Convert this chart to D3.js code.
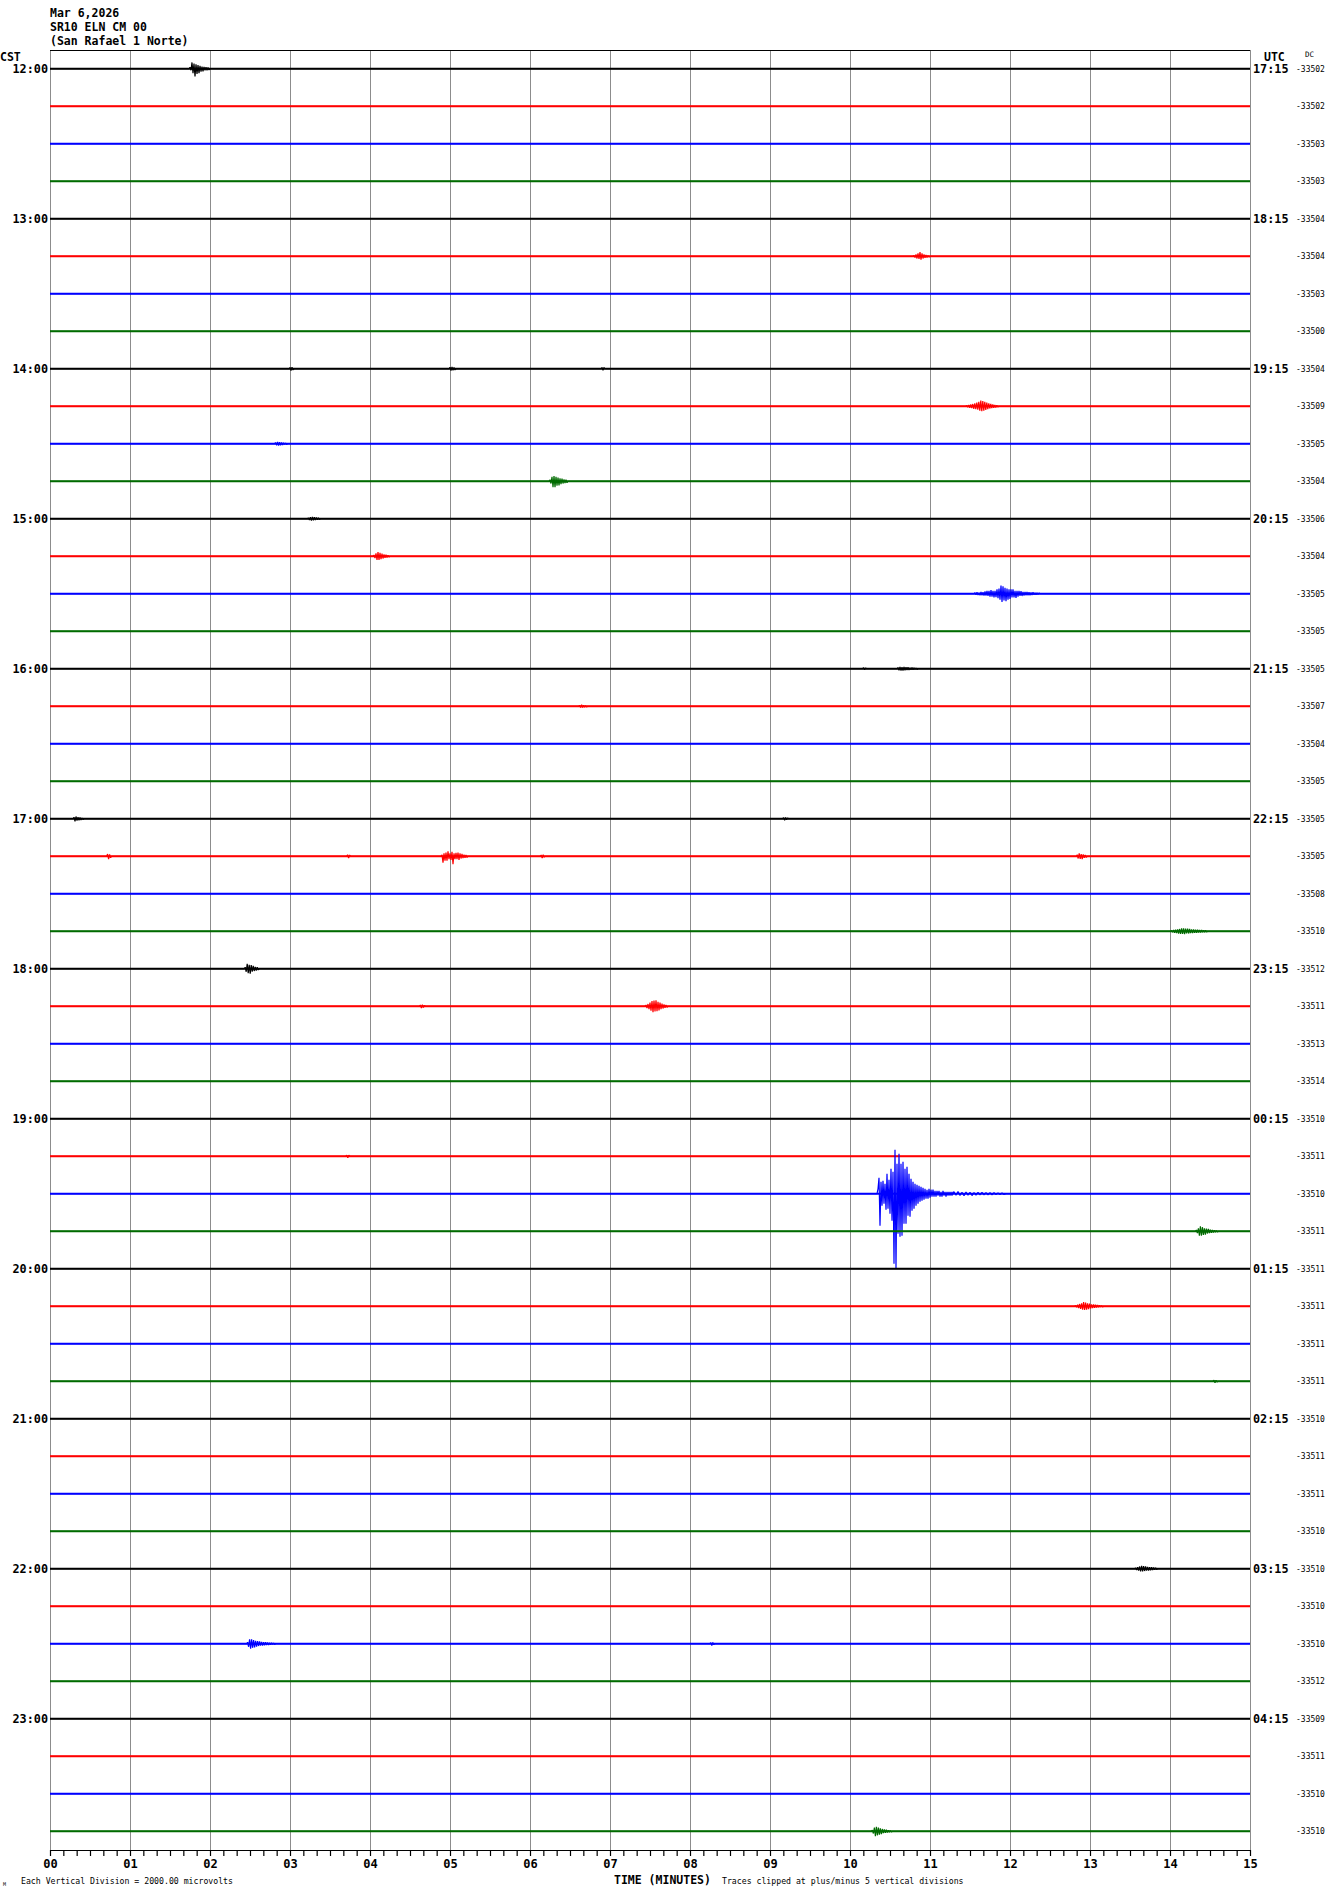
<!DOCTYPE html>
<html><head><meta charset="utf-8">
<script src="https://cdn.jsdelivr.net/npm/d3@7"></script>
<style>
html,body{margin:0;padding:0;background:#fff;}
svg{display:block;}
</style></head><body>
<script>
// ---------------- DATA ----------------
const titleLines = ["Mar 6,2026", "SR10 ELN CM 00", "(San Rafael 1 Norte)"];
const cstLabels = ["12:00","13:00","14:00","15:00","16:00","17:00","18:00","19:00","20:00","21:00","22:00","23:00"];
const utcLabels = ["17:15","18:15","19:15","20:15","21:15","22:15","23:15","00:15","01:15","02:15","03:15","04:15"];
const dcValues = [
  -33502,-33502,-33503,-33503,-33504,-33504,-33503,-33500,
  -33504,-33509,-33505,-33504,-33506,-33504,-33505,-33505,
  -33505,-33507,-33504,-33505,-33505,-33505,-33508,-33510,
  -33512,-33511,-33513,-33514,-33510,-33511,-33510,-33511,
  -33511,-33511,-33511,-33511,-33510,-33511,-33511,-33510,
  -33510,-33510,-33510,-33512,-33509,-33511,-33510,-33510
];
const minuteLabels = ["00","01","02","03","04","05","06","07","08","09","10","11","12","13","14","15"];
const rowCount = 48;
// events: row index, start minute, sample step (minutes), values in vertical divisions
const events = [
  {row:0, start:1.75, step:0.0125, values:[0.1,-0.1,0.42,-0.3,0.35,-0.52,0.3,-0.35,0.25,-0.3,0.2,-0.2,0.15,-0.18,0.12,-0.1,0.1,-0.1,0.08,-0.08]},
  {row:5, start:10.8, step:0.0125, values:[0.05,-0.08,0.12,-0.15,0.2,-0.18,0.27,-0.22,0.2,-0.15,0.12,-0.1,0.08,-0.08,0.05,-0.05]},
  {row:8, start:3.0, step:0.0125, values:[0.08,-0.12,0.1,-0.08]},
  {row:8, start:5.0, step:0.0125, values:[0.1,-0.13,0.12,-0.1,0.08,-0.08]},
  {row:8, start:6.9, step:0.0125, values:[0.08,-0.1,0.08]},
  {row:9, start:11.46, step:0.0125, values:[0.05,-0.07,0.08,-0.1,0.12,-0.13,0.15,-0.17,0.2,-0.2,0.25,-0.22,0.3,-0.3,0.38,-0.33,0.35,-0.3,0.3,-0.25,0.25,-0.2,0.2,-0.15,0.15,-0.12,0.12,-0.1,0.08,-0.08,0.07,-0.05]},
  {row:10, start:2.82, step:0.0125, values:[0.08,-0.1,0.13,-0.12,0.1,-0.1,0.08,-0.08,0.07,-0.05,0.05,-0.05]},
  {row:11, start:6.25, step:0.0125, values:[0.1,-0.15,0.3,-0.4,0.35,-0.4,0.3,-0.3,0.25,-0.28,0.2,-0.2,0.18,-0.15,0.12,-0.12,0.1,-0.1]},
  {row:12, start:3.23, step:0.0125, values:[0.05,-0.08,0.1,-0.13,0.12,-0.1,0.1,-0.08,0.08,-0.06,0.06,-0.05]},
  {row:13, start:4.05, step:0.0125, values:[0.08,-0.12,0.2,-0.25,0.27,-0.25,0.22,-0.2,0.18,-0.15,0.12,-0.1,0.1,-0.08,0.06,-0.05]},
  {row:14, start:11.5625, step:0.0125, values:[
    0.07,-0.07,0.1,-0.08,0.07,-0.1,0.13,-0.1,0.1,-0.13,0.15,-0.13,0.2,-0.15,0.2,
    -0.2,0.25,-0.2,0.2,-0.25,0.2,-0.22,0.3,-0.3,0.35,
    -0.4,0.55,-0.55,0.5,-0.45,0.4,-0.5,0.35,-0.4,0.3,
    -0.35,0.3,-0.25,0.3,-0.25,0.2,-0.27,0.2,-0.2,0.2,-0.15,0.18,-0.15,0.13,-0.13,
    0.13,-0.1,0.12,-0.1,0.1,-0.1,0.08,-0.08,0.1,-0.07,0.07,-0.07,0.06,-0.05,0.05]},
  {row:16, start:10.17, step:0.0125, values:[0.07,-0.07,0.05]},
  {row:16, start:10.6, step:0.0125, values:[0.08,-0.1,0.13,-0.12,0.1,-0.13,0.12,-0.1,0.1,-0.08,0.1,-0.08,0.07,-0.07,0.08,-0.06,0.06,-0.05,0.05,-0.05]},
  {row:17, start:6.62, step:0.0125, values:[0.06,-0.08,0.1,-0.08,0.07,-0.06,0.05,-0.05]},
  {row:20, start:0.3, step:0.0125, values:[0.1,-0.17,0.15,-0.12,0.1,-0.1,0.08,-0.08,0.05,-0.05]},
  {row:20, start:9.17, step:0.0125, values:[0.07,-0.1,0.08,-0.06,0.05]},
  {row:21, start:0.72, step:0.0125, values:[0.15,-0.2,0.12,-0.1]},
  {row:21, start:3.72, step:0.0125, values:[0.1,-0.12,0.08]},
  {row:21, start:4.9, step:0.0125, values:[0.1,-0.43,0.2,-0.3,0.25,-0.3,0.33,-0.2,0.2,-0.25,0.3,-0.53,0.2,-0.2,0.22,-0.2,0.25,-0.25,0.2,-0.15,0.15,-0.12,0.1,-0.1,0.08,-0.08]},
  {row:21, start:6.14, step:0.0125, values:[0.08,-0.12,0.1,-0.06]},
  {row:21, start:12.84, step:0.0125, values:[0.1,-0.15,0.2,-0.18,0.15,-0.2,0.12,-0.1,0.08,-0.08]},
  {row:23, start:14.02, step:0.0125, values:[0.05,-0.07,0.08,-0.1,0.1,-0.12,0.12,-0.15,0.15,-0.18,0.2,-0.17,0.2,-0.2,0.18,-0.15,0.17,-0.15,0.15,-0.13,0.12,-0.13,0.12,-0.1,0.1,-0.1,0.1,-0.08,0.08,-0.08,0.08,-0.07,0.07,-0.06,0.06,-0.05]},
  {row:24, start:2.44, step:0.0125, values:[0.1,-0.2,0.33,-0.3,0.27,-0.33,0.25,-0.2,0.2,-0.15,0.12,-0.12,0.1,-0.08]},
  {row:25, start:4.63, step:0.0125, values:[0.08,-0.12,0.1,-0.08,0.06]},
  {row:25, start:7.45, step:0.0125, values:[0.08,-0.12,0.15,-0.2,0.25,-0.3,0.35,-0.4,0.38,-0.35,0.4,-0.33,0.3,-0.28,0.25,-0.2,0.18,-0.15,0.12,-0.1,0.08,-0.07]},
  {row:29, start:3.71, step:0.0125, values:[0.07,-0.1,0.07]},
  {row:30, start:10.35, step:0.0125, values:[
    0.33,1.07,-2.13,0.8,-0.8,0.87,-0.67,0.67,-1.07,1.33,-1.0,0.93,-1.33,1.67,-1.8,1.47,
    -4.67,2.93,-5.0,2.0,-2.67,2.67,-2.87,2.0,-2.8,2.13,-2.0,1.67,-2.0,1.8,-1.47,1.33,
    -1.53,1.0,-1.13,0.8,-1.0,0.67,-0.8,0.6,-0.67,0.53,-0.53,0.47,-0.47,0.4,
    -0.4,0.33,-0.33,0.27,-0.33,0.33,-0.27,0.27,-0.2,0.27,
    -0.2,0.2,-0.2,0.2,-0.13,0.2,-0.2,0.13,-0.2,0.2,-0.13,0.13,-0.2,0.13,-0.13,0.13,-0.13,0.13,-0.13,0.13]},
  {row:30, start:11.3, step:0.025, values:[0.13,-0.1,0.15,-0.12,0.1,-0.13,0.12,-0.1,0.1,-0.12,0.08,-0.1,0.1,-0.08,0.1,-0.07,0.08,-0.08,0.07,-0.07,0.08,-0.06,0.06,-0.05,0.05,-0.05]},
  {row:31, start:14.33, step:0.0125, values:[0.08,-0.12,0.2,-0.3,0.33,-0.3,0.27,-0.25,0.2,-0.22,0.18,-0.15,0.15,-0.12,0.1,-0.1,0.08,-0.08,0.07,-0.06,0.05,-0.05]},
  {row:33, start:12.82, step:0.0125, values:[0.05,-0.07,0.1,-0.12,0.15,-0.17,0.2,-0.22,0.27,-0.25,0.25,-0.22,0.2,-0.2,0.18,-0.15,0.13,-0.12,0.12,-0.1,0.1,-0.08,0.08,-0.07,0.07,-0.05,0.05,-0.05]},
  {row:35, start:14.55, step:0.0125, values:[0.07,-0.1,0.07,-0.05]},
  {row:40, start:13.57, step:0.0125, values:[0.05,-0.08,0.1,-0.13,0.15,-0.17,0.2,-0.18,0.17,-0.15,0.15,-0.13,0.12,-0.12,0.1,-0.1,0.1,-0.08,0.08,-0.07,0.07,-0.05]},
  {row:42, start:2.47, step:0.0125, values:[0.1,-0.2,0.3,-0.33,0.3,-0.27,0.25,-0.25,0.2,-0.2,0.18,-0.15,0.15,-0.13,0.12,-0.12,0.1,-0.1,0.1,-0.08,0.08,-0.08,0.07,-0.07,0.06,-0.05,0.05,-0.05]},
  {row:42, start:8.26, step:0.0125, values:[0.07,-0.12,0.08,-0.06]},
  {row:47, start:10.28, step:0.0125, values:[0.08,-0.15,0.25,-0.33,0.3,-0.27,0.25,-0.22,0.2,-0.2,0.15,-0.13,0.12,-0.1,0.1,-0.08,0.07,-0.06,0.05,-0.05]}
];

// ---------------- STYLE / LAYOUT ----------------
const traceColors = ["#000000", "#ff0000", "#0000ff", "#006b00"];
const W = 1330, H = 1894;
const plot = {left: 50, right: 1250, top: 50, bottom: 1850};
const FONT = "'DejaVu Sans Mono', 'Liberation Mono', monospace";

const svg = d3.select("body").append("svg").attr("width", W).attr("height", H);

const x = d3.scaleLinear().domain([0, 15]).range([plot.left, plot.right]);
const rowY = d3.scaleBand().domain(d3.range(rowCount)).range([plot.top, plot.bottom]);
const rowCenter = r => rowY(r) + rowY.bandwidth() / 2;
// amplitude: 1 vertical division = 15 px, clipped at +/-5 divisions
const amp = d3.scaleLinear().domain([-5, 5]).range([75, -75]).clamp(true);

// gridlines
svg.append("g").selectAll("line").data(d3.range(0, 16)).join("line")
  .attr("x1", d => Math.round(x(d)) + 0.5).attr("x2", d => Math.round(x(d)) + 0.5)
  .attr("y1", plot.top).attr("y2", plot.bottom)
  .attr("stroke", "#8c8c8c").attr("stroke-width", 1);

// top border
svg.append("line").attr("x1", plot.left).attr("x2", plot.right)
  .attr("y1", plot.top + 0.5).attr("y2", plot.top + 0.5)
  .attr("stroke", "#000").attr("stroke-width", 1);

// traces
const line = d3.line().x(d => x(d[0])).y(d => d[1]);
const tracesG = svg.append("g");
for (let r = 0; r < rowCount; r++) {
  const yc = rowCenter(r);
  const color = traceColors[r % 4];
  const evs = events.filter(e => e.row === r).sort((a, b) => a.start - b.start);
  const pts = [[0, yc]];
  evs.forEach(e => {
    pts.push([e.start - e.step, yc]);
    e.values.forEach((v, i) => pts.push([e.start + i * e.step, yc + amp(v)]));
    pts.push([e.start + e.values.length * e.step, yc]);
  });
  pts.push([15, yc]);
  tracesG.append("line")
    .attr("x1", x(0)).attr("x2", x(15)).attr("y1", yc).attr("y2", yc)
    .attr("stroke", color).attr("stroke-width", 2);
  tracesG.append("path").attr("d", line(pts))
    .attr("fill", "none").attr("stroke", color).attr("stroke-width", 1.2)
    .attr("stroke-linejoin", "bevel");
}

// x axis
const axisG = svg.append("g").attr("transform", `translate(0,${plot.bottom})`);
axisG.call(d3.axisBottom(x).tickValues(d3.range(0, 15 + 1e-9, 1 / 6)).tickSize(6).tickSizeOuter(0).tickFormat(""));
axisG.select(".domain").attr("stroke", "#000").attr("stroke-width", 1.2);
axisG.selectAll(".tick line").attr("stroke", "#000").attr("stroke-width", 1.2);
const labG = svg.append("g").attr("transform", `translate(0,${plot.bottom})`);
labG.call(d3.axisBottom(x).tickValues(d3.range(0, 16)).tickSize(0).tickPadding(14)
  .tickFormat((d, i) => minuteLabels[i]));
labG.select(".domain").remove();
labG.selectAll(".tick text").attr("font-family", FONT).attr("font-weight", "bold")
  .attr("font-size", "12px").attr("fill", "#000").attr("dy", "0.45em").attr("y", 13);

// header
svg.append("g").selectAll("text").data(titleLines).join("text")
  .attr("x", 50).attr("y", (d, i) => [16.5, 30.5, 44.5][i])
  .attr("font-family", FONT).attr("font-weight", "bold").attr("font-size", "11.5px")
  .text(d => d);

svg.append("text").attr("x", 0).attr("y", 60.5)
  .attr("font-family", FONT).attr("font-weight", "bold").attr("font-size", "11.5px").text("CST");
svg.append("text").attr("x", 1264).attr("y", 60.5)
  .attr("font-family", FONT).attr("font-weight", "bold").attr("font-size", "11.5px").text("UTC");
svg.append("text").attr("x", 1305).attr("y", 57)
  .attr("font-family", FONT).attr("font-size", "7.5px").text("DC");

// hour labels left
svg.append("g").selectAll("text").data(cstLabels).join("text")
  .attr("x", 48).attr("y", (d, i) => rowCenter(i * 4)).attr("dy", "0.38em")
  .attr("text-anchor", "end")
  .attr("font-family", FONT).attr("font-weight", "bold").attr("font-size", "11.8px")
  .text(d => d);

// hour labels right
svg.append("g").selectAll("text").data(utcLabels).join("text")
  .attr("x", 1253).attr("y", (d, i) => rowCenter(i * 4)).attr("dy", "0.38em")
  .attr("font-family", FONT).attr("font-weight", "bold").attr("font-size", "11.8px")
  .text(d => d);

// DC labels
svg.append("g").selectAll("text").data(dcValues).join("text")
  .attr("x", 1296).attr("y", (d, i) => rowCenter(i)).attr("dy", "0.35em")
  .attr("font-family", FONT).attr("font-size", "8px")
  .text(d => String(d));

// footer texts
svg.append("text").attr("x", 614).attr("y", 1884)
  .attr("font-family", FONT).attr("font-weight", "bold").attr("font-size", "11.5px")
  .text("TIME (MINUTES)");
svg.append("text").attr("x", 21).attr("y", 1884)
  .attr("font-family", FONT).attr("font-size", "8.2px")
  .text("Each Vertical Division = 2000.00 microvolts");
svg.append("text").attr("x", 722).attr("y", 1884)
  .attr("font-family", FONT).attr("font-size", "8.2px")
  .text("Traces clipped at plus/minus 5 vertical divisions");
svg.append("text").attr("x", 3).attr("y", 1886)
  .attr("font-family", FONT).attr("font-size", "5px").text("M");
</script>
</body></html>
